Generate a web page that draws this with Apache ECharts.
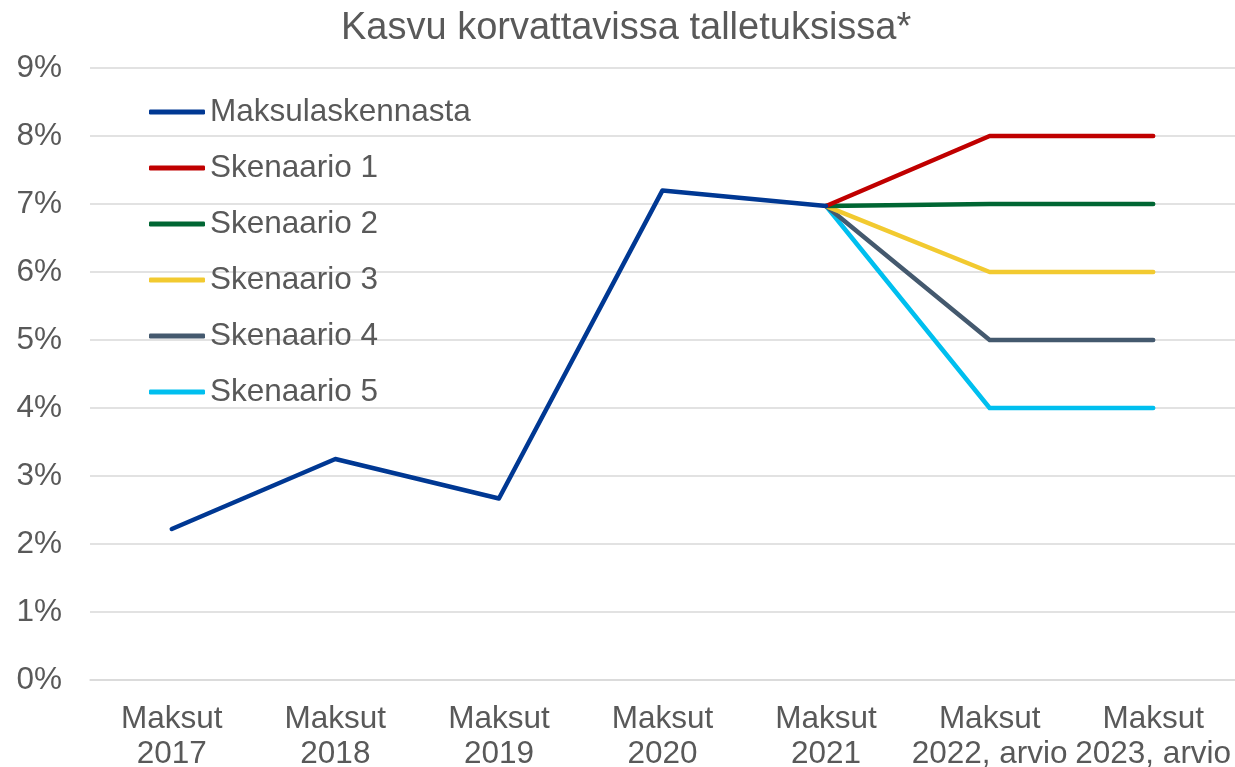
<!DOCTYPE html>
<html lang="fi">
<head>
	<meta charset="utf-8" />
	<title>Kasvu korvattavissa talletuksissa</title>
	<script src="https://cdn.jsdelivr.net/npm/echarts@6/dist/echarts.min.js"></script>
	<style>
		html, body { margin: 0; padding: 0; background: #fff; }
		#chart { width: 1235px; height: 767px; }
	</style>
</head>
<body>
	<div id="chart"></div>
	<script>
		// luokat ja arvot (%)
		var categories = ['Maksut\n2017', 'Maksut\n2018', 'Maksut\n2019', 'Maksut\n2020', 'Maksut\n2021', 'Maksut\n2022, arvio', 'Maksut\n2023, arvio'];
		var maksulaskennasta = [2.22, 3.25, 2.67, 7.2, 6.97, null, null];
		var skenaario1 = [null, null, null, null, 6.97, 8, 8];
		var skenaario2 = [null, null, null, null, 6.97, 7, 7];
		var skenaario3 = [null, null, null, null, 6.97, 6, 6];
		var skenaario4 = [null, null, null, null, 6.97, 5, 5];
		var skenaario5 = [null, null, null, null, 6.97, 4, 4];

		var seriesNames = ['Maksulaskennasta', 'Skenaario 1', 'Skenaario 2', 'Skenaario 3', 'Skenaario 4', 'Skenaario 5'];
		var seriesData = [maksulaskennasta, skenaario1, skenaario2, skenaario3, skenaario4, skenaario5];
		var colors = ['#003893', '#C00000', '#006633', '#F2CA30', '#44596E', '#00BFEF'];

		var font = '"Liberation Sans", Arial, sans-serif';
		var chart = echarts.init(document.getElementById('chart'));

		var series = [];
		// piirretään skenaariot ensin, sininen päällimmäiseksi
		for (var i = seriesNames.length - 1; i >= 0; i--) {
			series.push({
				name: seriesNames[i],
				type: 'line',
				data: seriesData[i],
				showSymbol: false,
				symbol: 'none',
				z: 10 - i,
				lineStyle: { color: colors[i], width: 4.5, cap: 'round', join: 'round' },
				itemStyle: { color: colors[i] }
			});
		}

		var option = {
			animation: false,
			backgroundColor: '#ffffff',
			title: {
				text: 'Kasvu korvattavissa talletuksissa*',
				left: 341,
				top: 10,
				padding: 0,
				textStyle: { fontFamily: font, fontSize: 38, fontWeight: 'normal', color: '#595959' }
			},
			legend: {
				orient: 'vertical',
				left: 149,
				top: 95,
				padding: 0,
				data: seriesNames,
				icon: 'roundRect',
				itemWidth: 56,
				itemHeight: 5,
				itemGap: 22,
				textStyle: { fontFamily: font, fontSize: 31.5, color: '#595959', lineHeight: 34 }
			},
			grid: { left: 90, right: 0, top: 68, bottom: 87, containLabel: false, outerBoundsMode: 'none' },
			xAxis: {
				type: 'category',
				data: categories,
				boundaryGap: true,
				axisLine: { lineStyle: { color: '#d9d9d9', width: 1.5 } },
				axisTick: { show: false },
				axisLabel: { fontFamily: font, fontSize: 31.5, color: '#595959', lineHeight: 35, margin: 22, interval: 0 }
			},
			yAxis: {
				type: 'value',
				min: 0,
				max: 9,
				interval: 1,
				axisLine: { show: false },
				axisTick: { show: false },
				splitLine: { lineStyle: { color: '#d9d9d9', width: 1.5 } },
				axisLabel: { fontFamily: font, fontSize: 31.5, color: '#595959', margin: 28, formatter: '{value}%' }
			},
			series: series
		};
		chart.setOption(option);
	</script>
</body>
</html>
